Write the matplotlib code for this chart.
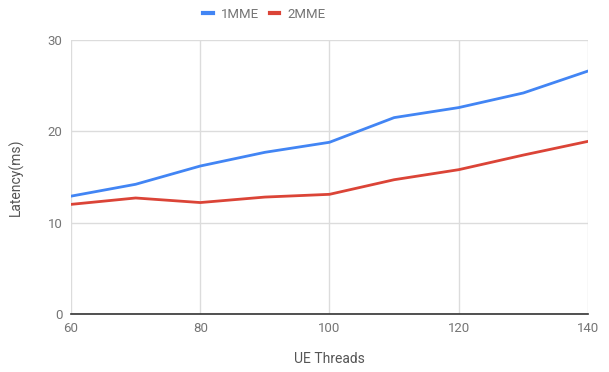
import numpy as np
import matplotlib.pyplot as plt
from matplotlib.lines import Line2D

# Messwerte
ue_threads = [60, 70, 80, 90, 100, 110, 120, 130, 140]
lat_1mme = [12.9, 14.2, 16.2, 17.7, 18.8, 21.5, 22.6, 24.2, 26.6]
lat_2mme = [12.0, 12.7, 12.2, 12.8, 13.1, 14.7, 15.8, 17.4, 18.9]

x_ticks = [60, 80, 100, 120, 140]
y_ticks = [0, 10, 20, 30]

plt.rcParams['font.family'] = ['Roboto', 'DejaVu Sans']
txt_col = '#757575'
grid_col = '#dcdcdc'
c_blue = '#4285f4'
c_red = '#db4437'

fig = plt.figure(figsize=(6.09, 3.72), dpi=100)
ax = fig.add_axes([0.1166, 0.156, 0.8489, 0.7365])

ax.plot(ue_threads, lat_1mme, color=c_blue, linewidth=2, label='1MME')
ax.plot(ue_threads, lat_2mme, color=c_red, linewidth=2, label='2MME')

ax.set_xlim(60, 140)
ax.set_ylim(0, 30)
ax.set_xticks(x_ticks)
ax.set_yticks(y_ticks)
ax.grid(True, color=grid_col, linewidth=1)
ax.set_axisbelow(True)

for s in ['top', 'right', 'left']:
    ax.spines[s].set_visible(False)
ax.spines['bottom'].set_color('#333333')
ax.spines['bottom'].set_linewidth(1.2)
ax.spines['bottom'].set_zorder(5)

ax.tick_params(axis='both', length=0, labelsize=9.5, labelcolor=txt_col)
ax.tick_params(axis='x', pad=6)
ax.tick_params(axis='y', pad=6)

ax.set_xlabel('UE Threads', fontsize=10, color='#555555', labelpad=12)
ax.set_ylabel('Latency(ms)', fontsize=10, color='#555555', labelpad=17)

# Legende oben
handles = [Line2D([], [], color=c_blue, linewidth=3),
           Line2D([], [], color=c_red, linewidth=3)]
leg = fig.legend(handles, ['1MME', '2MME'], loc='center', bbox_to_anchor=(0.434, 0.962),
                 ncol=2, frameon=False, fontsize=9.5, handlelength=0.75,
                 handletextpad=0.6, columnspacing=0.8)
for t in leg.get_texts():
    t.set_color(txt_col)

fig.savefig('out.png', dpi=100)
